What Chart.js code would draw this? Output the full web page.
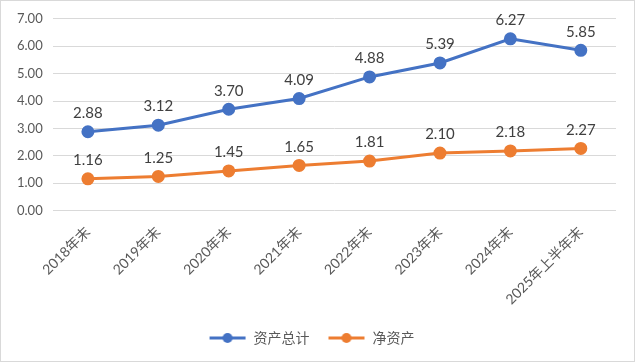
<!DOCTYPE html>
<html>
<head>
<meta charset="utf-8">
<script src="https://cdn.jsdelivr.net/npm/chart.js@4/dist/chart.umd.min.js"></script>
<style>
  html, body { margin: 0; padding: 0; background: #fff; }
  #box { width: 633px; height: 360px; border: 1px solid #d9d9d9; position: relative; }
</style>
</head>
<body>
<div id="box"><canvas id="myChart"></canvas></div>
<script>
var categories = ['2018年末', '2019年末', '2020年末', '2021年末', '2022年末', '2023年末', '2024年末', '2025年上半年末'];
var totalAssets = [2.88, 3.12, 3.70, 4.09, 4.88, 5.39, 6.27, 5.85];
var netAssets = [1.16, 1.25, 1.45, 1.65, 1.81, 2.10, 2.18, 2.27];
var seriesNames = ['资产总计', '净资产'];

var FONT = "Lato, 'Noto Sans CJK SC', sans-serif";

// little line-with-dot icon for the legend
function legendIcon(color) {
    var c = document.createElement('canvas');
    c.width = 38; c.height = 12;
    var g = c.getContext('2d');
    g.strokeStyle = color;
    g.lineWidth = 3;
    g.beginPath(); g.moveTo(1, 6); g.lineTo(37, 6); g.stroke();
    g.fillStyle = color;
    g.beginPath(); g.arc(19, 6, 5, 0, Math.PI * 2); g.fill();
    return c;
}

// value labels above each point
var valueLabels = {
    id: 'valueLabels',
    afterDatasetsDraw: function(chart) {
        var ctx = chart.ctx;
        ctx.save();
        ctx.font = '15px ' + FONT;
        ctx.fillStyle = '#404040';
        ctx.textAlign = 'center';
        ctx.textBaseline = 'bottom';
        chart.data.datasets.forEach(function(ds, i) {
            chart.getDatasetMeta(i).data.forEach(function(pt, j) {
                ctx.fillText(ds.data[j].toFixed(2), pt.x, pt.y - 11);
            });
        });
        ctx.restore();
    }
};

var ctx = document.getElementById('myChart').getContext('2d');
var chart = new Chart(ctx, {
    type: 'line',
    data: {
        labels: categories,
        datasets: [{
            label: seriesNames[0],
            data: totalAssets,
            borderColor: '#4472C4',
            backgroundColor: '#4472C4',
            borderWidth: 3,
            pointRadius: 5,
            pointHoverRadius: 5,
            pointStyle: 'circle'
        }, {
            label: seriesNames[1],
            data: netAssets,
            borderColor: '#ED7D31',
            backgroundColor: '#ED7D31',
            borderWidth: 3,
            pointRadius: 5,
            pointHoverRadius: 5,
            pointStyle: 'circle'
        }]
    },
    options: {
        responsive: true,
        maintainAspectRatio: false,
        animation: false,
        layout: { padding: { left: 6, right: 18, top: 14, bottom: 6 } },
        scales: {
            x: {
                offset: true,
                grid: { display: false },
                border: { display: false },
                ticks: {
                    color: '#595959',
                    font: { family: FONT, size: 14 },
                    minRotation: 45,
                    maxRotation: 45,
                    padding: 5,
                    autoSkip: false
                }
            },
            y: {
                min: 0,
                max: 7,
                grid: { color: '#d9d9d9', drawTicks: false },
                border: { display: false },
                ticks: {
                    stepSize: 1,
                    padding: 10,
                    color: '#595959',
                    font: { family: FONT, size: 13 },
                    callback: function(v) { return v.toFixed(2); }
                }
            }
        },
        plugins: {
            tooltip: { enabled: false },
            legend: {
                position: 'bottom',
                labels: {
                    usePointStyle: true,
                    pointStyleWidth: 38,
                    color: '#595959',
                    font: { family: FONT, size: 14 },
                    padding: 18,
                    generateLabels: function(chart) {
                        return chart.data.datasets.map(function(ds, i) {
                            return {
                                text: ds.label,
                                pointStyle: legendIcon(ds.borderColor),
                                fillStyle: ds.borderColor,
                                strokeStyle: ds.borderColor,
                                lineWidth: 0,
                                fontColor: '#595959',
                                datasetIndex: i
                            };
                        });
                    }
                }
            }
        }
    },
    plugins: [valueLabels]
});
</script>
</body>
</html>
